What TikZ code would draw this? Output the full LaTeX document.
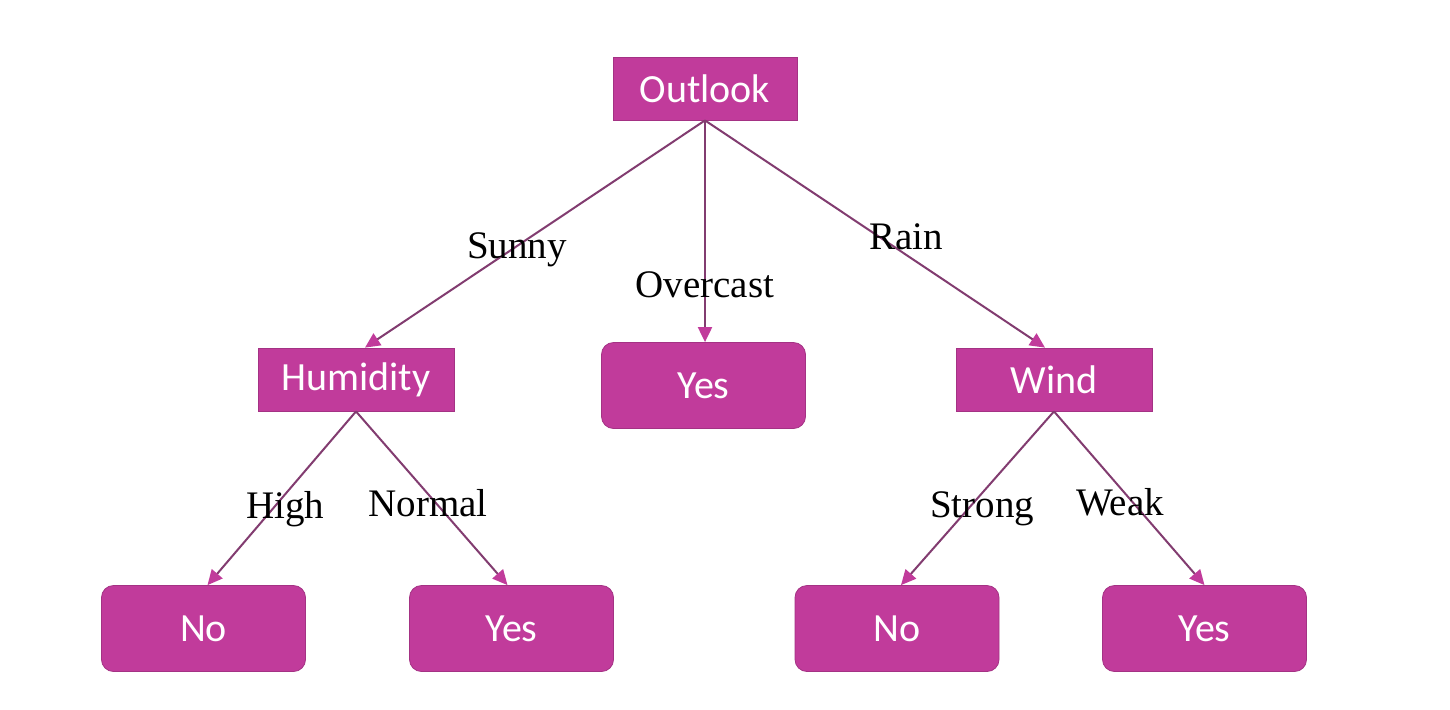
\documentclass[tikz,border=0pt]{standalone}
\usepackage{fontspec}
\setmainfont{Liberation Serif}
\newfontfamily\boxfont{Carlito}
\usetikzlibrary{arrows.meta}
\definecolor{boxpink}{HTML}{C13B9B}
\definecolor{edgeline}{HTML}{823C70}
\tikzset{
	attr/.style={fill=boxpink,draw=boxpink!85!black,line width=0.4pt,text=white,font=\boxfont\fontsize{20}{24}\selectfont,minimum height=31.5pt,inner sep=0pt},
	leaf/.style={attr,rounded corners=6pt,minimum width=102pt,minimum height=43pt},
	branch/.style={edgeline,line width=1pt,-{Triangle[length=7.5pt,width=7pt,color=boxpink]}},
	lbl/.style={anchor=base,inner sep=0pt,font=\fontsize{19.5}{23}\selectfont}
}
\begin{document}
\begin{tikzpicture}[x=0.5pt,y=-0.5pt]
			\useasboundingbox[fill=white] (0,0) rectangle (1450,709);
			\node[attr,minimum width=92pt] (outlook) at (705,88.5) {Outlook};
			\node[attr,minimum width=98pt] (humid) at (356,379.5) {Humidity};
			\node[leaf] (yesO) at (703.5,385.5) {Yes};
			\node[attr,minimum width=98pt] (wind) at (1054,379.5) {Wind};
			\node[leaf] (noH) at (203.5,628.5) {No};
			\node[leaf] (yesN) at (511.5,628.5) {Yes};
			\node[leaf] (noS) at (897,628.5) {No};
			\node[leaf] (yesW) at (1204.5,628.5) {Yes};
			\draw[branch] (outlook.south) -- ([xshift=4.5pt]humid.north);
			\draw[branch] (outlook.south) -- ([xshift=0.75pt]yesO.north);
			\draw[branch] (outlook.south) -- ([xshift=-4.5pt]wind.north);
			\draw[branch] (humid.south) -- ([xshift=2pt]noH.north);
			\draw[branch] (humid.south) -- ([xshift=-2pt]yesN.north);
			\draw[branch] (wind.south) -- ([xshift=2pt]noS.north);
			\draw[branch] (wind.south) -- (yesW.north);
			\node[lbl] (sunny) at (517,258) {Sunny};
			\node[lbl] (overcast) at (705,297) {Overcast};
			\node[lbl] (rain) at (906,249) {Rain};
			\node[lbl] (high) at (285,518) {High};
			\node[lbl] (normal) at (428,516) {Normal};
			\node[lbl] (strong) at (982,517) {Strong};
			\node[lbl] (weak) at (1120,515) {Weak};
		\end{tikzpicture}
\end{document}
